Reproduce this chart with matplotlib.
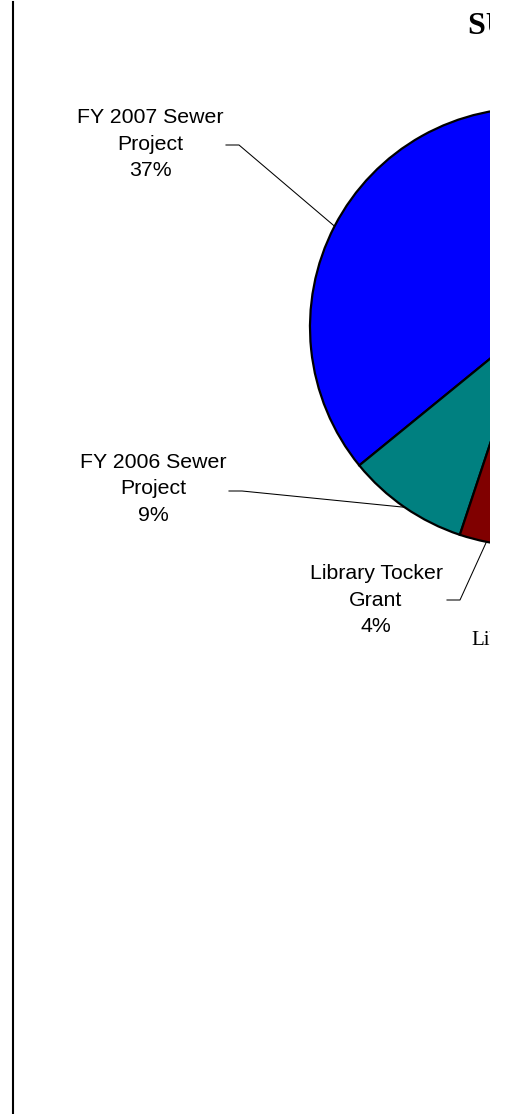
import matplotlib
matplotlib.use("Agg")
import matplotlib.pyplot as plt
from matplotlib.patches import Rectangle
import numpy as np

# slice data, counterclockwise from the start angle
labels = ["FY 2007 Sewer\nProject", "FY 2006 Sewer\nProject", "Library Tocker\nGrant",
          "Library", "Other"]
values = [37, 9, 4, 5, 45]
colors = ["#0000FF", "#008080", "#800000", "#800080", "#9999FF"]
title = "SUMMARY OF GRANTS"

W, H = 505, 1114
fig = plt.figure(figsize=(W / 100, H / 100), dpi=100)
ax = fig.add_axes([0, 0, 1, 1])

def py(y):
    # pixel row -> data y (origin at bottom)
    return H - y

cx, cy, r = 529, 327, 219
wedges, _ = ax.pie(values, colors=colors, startangle=86, counterclock=True,
                   center=(cx, py(cy)), radius=r,
                   wedgeprops=dict(edgecolor="black", linewidth=1.6))
ax.set_xlim(0, W)
ax.set_ylim(0, H)
ax.set_aspect("equal")
ax.axis("off")

# labels with elbow leader lines: (label centre, elbow, line end)
lab_pos = [((150, 144), (239, 145), 226),
           ((153, 489), (242, 491), 229),
           ((376, 600), (460, 600), 447)]
total = sum(values)
for i, ((lx, ly), (ex, ey), endx) in enumerate(lab_pos):
    w = wedges[i]
    mid = np.deg2rad((w.theta1 + w.theta2) / 2)
    px = cx + r * np.cos(mid)
    pyy = py(cy) + r * np.sin(mid)
    ax.plot([px, ex, endx], [pyy, py(ey), py(ey)], color="black", lw=0.75)
    pct = values[i] / total * 100
    ax.text(lx, py(ly), f"{labels[i]}\n{pct:.0f}%", ha="center", va="center",
            multialignment="center", fontsize=15.3, family="Liberation Sans",
            linespacing=1.5)

ax.text(471, py(645), "Library", ha="left", va="baseline", fontsize=15,
        family="Liberation Serif")
ax.text(468, py(12), title, ha="left", va="top", fontsize=23,
        fontweight="bold", family="Liberation Serif")

# left border
ax.plot([12.5, 12.5], [py(2), 0], color="black", lw=1.5, clip_on=False)

# right edge of the visible area
fig.add_artist(Rectangle((489.5 / W, 0), 1, 1, transform=fig.transFigure,
                         facecolor="white", edgecolor="none", zorder=10))

fig.savefig("out.png", dpi=100)
